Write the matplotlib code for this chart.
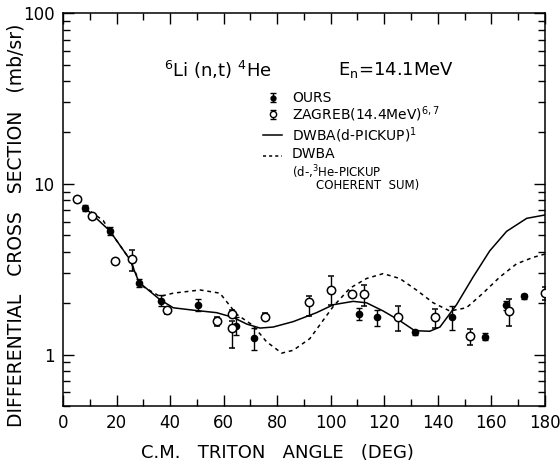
import matplotlib
matplotlib.use("Agg")
import matplotlib.pyplot as plt
from matplotlib.ticker import FixedLocator, LogLocator, NullFormatter, FixedFormatter, MultipleLocator

plt.rcParams['font.family'] = ['DejaVu Sans']

# OURS (filled points)
ours_angle = [8.2, 17.5, 28.4, 36.6, 50.5, 64.6, 71.2, 110.5, 117.4, 131.4, 145.4, 157.6, 165.3, 172.3]
ours_value = [7.2, 5.3, 2.64, 2.07, 1.96, 1.48, 1.25, 1.74, 1.65, 1.35, 1.66, 1.27, 1.94, 2.19]
ours_err = [0.3, 0.3, 0.15, 0.15, 0.17, 0.17, 0.19, 0.14, 0.17, 0.05, 0.27, 0.06, 0.12, 0.08]

# ZAGREB (open points)
zag_angle = [5.1, 10.7, 19.4, 25.6, 38.9, 57.7, 63.2, 63.2, 75.6, 92.0, 100.0, 107.8, 112.5, 125.0, 138.9, 152.0, 166.5, 180.0]
zag_value = [8.1, 6.5, 3.55, 3.63, 1.82, 1.57, 1.72, 1.43, 1.67, 2.03, 2.39, 2.26, 2.26, 1.65, 1.65, 1.28, 1.80, 2.31]
zag_err_lo = [0.1, 0.1, 0.1, 0.54, 0.08, 0.1, 0.04, 0.33, 0.07, 0.34, 0.43, 0.1, 0.34, 0.27, 0.22, 0.14, 0.32, 0.21]
zag_err_hi = [0.1, 0.1, 0.1, 0.45, 0.08, 0.1, 0.1, 0.15, 0.08, 0.16, 0.49, 0.1, 0.3, 0.27, 0.21, 0.13, 0.32, 0.19]

# DWBA (d-pickup) solid curve
dwba_angle = [8, 17.5, 25, 28.4, 36.2, 41.2, 48.7, 57.4, 63.6, 68.6, 73.6, 78.5, 86, 94.7, 101, 108.4, 113.4,
              119.6, 125.8, 131.4, 137, 140.8, 147, 153.2, 159.4, 165.7, 173.2, 180]
dwba_value = [7.3, 5.3, 3.6, 2.65, 2.1, 1.88, 1.82, 1.76, 1.65, 1.51, 1.43, 1.45, 1.56, 1.76, 1.96, 2.05, 2.01,
              1.80, 1.58, 1.38, 1.37, 1.45, 1.96, 2.85, 4.05, 5.27, 6.28, 6.57]

# DWBA coherent sum dashed curve
coh_angle = [8, 15, 17.5, 25, 28.4, 30, 36.2, 41.2, 51.2, 58.6, 64.9, 71, 76, 81.7, 86, 92.2, 101, 107.2, 113.4,
             119.6, 125.8, 132, 138.3, 144.5, 150.7, 156.9, 163.2, 169.4, 175.6, 180]
coh_value = [7.3, 6.1, 5.3, 3.6, 2.7, 2.5, 2.19, 2.29, 2.39, 2.29, 1.72, 1.48, 1.19, 1.02, 1.06, 1.24, 1.92, 2.45,
             2.79, 2.98, 2.79, 2.39, 2.01, 1.80, 1.88, 2.29, 2.85, 3.40, 3.71, 3.88]

x_ticks = [0, 20, 40, 60, 80, 100, 120, 140, 160, 180]
y_ticks = [1, 10, 100]
y_ticklabels = ["1", "10", "100"]

fig = plt.figure(figsize=(5.6, 4.68), dpi=100)
ax = fig.add_axes([0.1125, 0.1325, 0.8605, 0.8395])

ax.plot(dwba_angle, dwba_value, color='black', lw=1.1, ls='-')
ax.plot(coh_angle, coh_value, color='black', lw=1.1, ls=(0, (2.5, 2.5)))

ax.errorbar(ours_angle, ours_value, yerr=ours_err, fmt='o', color='black', ms=4.5,
            capsize=2.5, elinewidth=1.0, capthick=1.0, mfc='black', mec='black', zorder=4)
ax.errorbar(zag_angle, zag_value, yerr=[zag_err_lo, zag_err_hi], fmt='o', color='black', ms=6,
            capsize=2.5, elinewidth=1.0, capthick=1.0, mfc='white', mec='black', mew=1.1, zorder=5)

ax.set_yscale('log')
ax.set_xlim(0, 180)
ax.set_ylim(0.5, 100)

ax.xaxis.set_major_locator(FixedLocator(x_ticks))
ax.xaxis.set_minor_locator(MultipleLocator(10))
ax.yaxis.set_major_locator(FixedLocator(y_ticks))
ax.yaxis.set_major_formatter(FixedFormatter(y_ticklabels))
ax.yaxis.set_minor_locator(LogLocator(base=10, subs=range(2, 10)))
ax.yaxis.set_minor_formatter(NullFormatter())

ax.tick_params(which='both', direction='in', top=True, right=True, width=1.0, labelsize=12)
ax.tick_params(which='major', length=8, pad=6)
ax.tick_params(which='minor', length=5)
for s in ax.spines.values():
    s.set_linewidth(1.1)

ax.set_xlabel("C.M.   TRITON   ANGLE   (DEG)", fontsize=13)
ax.xaxis.set_label_coords(0.444, -0.097)
ax.set_ylabel("DIFFERENTIAL   CROSS   SECTION   (mb/sr)", fontsize=13.5)
ax.yaxis.set_label_coords(-0.078, 0.46)

ax.text(0.21, 0.855, r"$^{6}$Li (n,t) $^{4}$He", transform=ax.transAxes, fontsize=13, ha='left', va='center')
ax.text(0.57, 0.855, r"E$_{\rm n}$=14.1MeV", transform=ax.transAxes, fontsize=13, ha='left', va='center')

# legend entries
leg_x_sym = 0.435
leg_x_txt = 0.475
rows = [0.785, 0.742, 0.690, 0.637]
ax.errorbar([leg_x_sym], [rows[0]], yerr=[[0.012], [0.012]], fmt='o', ms=3.5, color='black',
            capsize=2, elinewidth=1, transform=ax.transAxes, clip_on=False)
ax.text(leg_x_txt, rows[0], "OURS", transform=ax.transAxes, fontsize=10, va='center')
ax.errorbar([leg_x_sym], [rows[1]], yerr=[[0.012], [0.012]], fmt='o', ms=4.5, color='black', mfc='white',
            capsize=2, elinewidth=1, transform=ax.transAxes, clip_on=False)
ax.text(leg_x_txt, rows[1], r"ZAGREB(14.4MeV)$^{6,7}$", transform=ax.transAxes, fontsize=10, va='center')
ax.plot([0.415, 0.455], [rows[2], rows[2]], color='black', lw=1.1, transform=ax.transAxes)
ax.text(leg_x_txt, rows[2], r"DWBA(d-PICKUP)$^{1}$", transform=ax.transAxes, fontsize=10, va='center')
ax.plot([0.415, 0.455], [rows[3], rows[3]], color='black', lw=1.1, ls=(0, (2, 2)), transform=ax.transAxes)
ax.text(leg_x_txt, rows[3] + 0.004, "DWBA", transform=ax.transAxes, fontsize=10, va='center')
ax.text(leg_x_txt, 0.596, r"(d-,$^{3}$He-PICKUP", transform=ax.transAxes, fontsize=8.5, va='center')
ax.text(0.525, 0.560, "COHERENT  SUM)", transform=ax.transAxes, fontsize=8.5, va='center')

fig.savefig("out.png", dpi=100)
